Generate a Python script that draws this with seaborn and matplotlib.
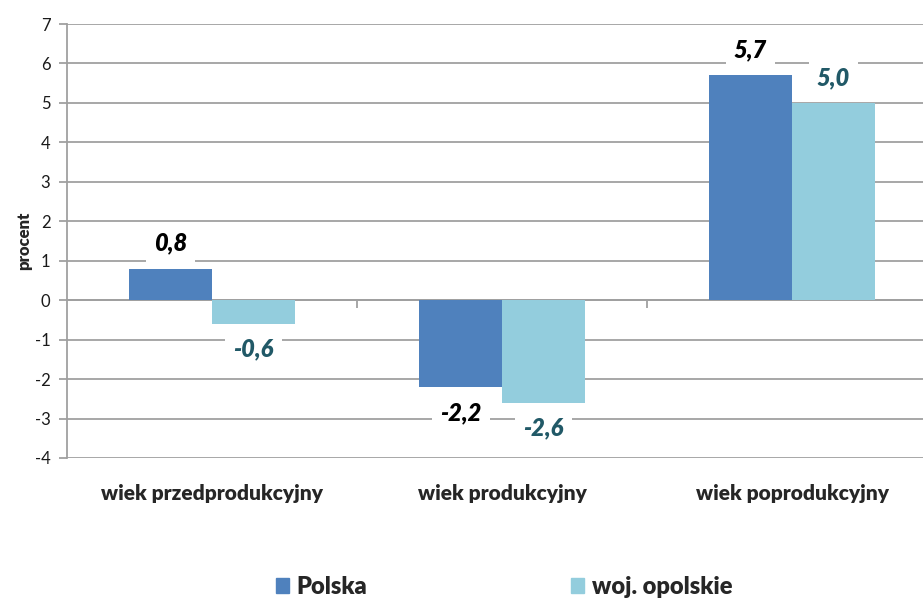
import matplotlib.pyplot as plt
import seaborn as sns
import pandas as pd

# dane
kategorie = ["wiek przedprodukcyjny", "wiek produkcyjny", "wiek poprodukcyjny"]
polska = [0.8, -2.2, 5.7]
opolskie = [-0.6, -2.6, 5.0]
serie = ["Polska", "woj. opolskie"]
etykiety_polska = ["0,8", "-2,2", "5,7"]
etykiety_opolskie = ["-0,6", "-2,6", "5,0"]

df = pd.DataFrame({
    "kategoria": kategorie * 2,
    "wartosc": polska + opolskie,
    "region": [serie[0]] * 3 + [serie[1]] * 3,
})

sns.set_theme(style="white")
plt.rcParams["font.family"] = ["Lato", "DejaVu Sans"]
plt.rcParams["axes.unicode_minus"] = False

szary = "#A0A0A0"
kolory = ["#4F81BD", "#93CDDD"]

fig = plt.figure(figsize=(9.23, 6.01), dpi=100)
# obszar wykresu wychodzi poza prawa krawedz, jak w oryginale
ax = fig.add_axes([0.0726, 0.238, 0.9426, 0.722])

sns.barplot(data=df, x="kategoria", y="wartosc", hue="region",
            palette=kolory, width=0.572, saturation=1, ax=ax,
            edgecolor="none", legend=False)

ax.set_xlim(-0.5, 2.5)
ax.set_ylim(-4, 7)
ax.set_yticks(range(-4, 8))
ax.yaxis.grid(True, color=szary, linewidth=1.3)
ax.set_axisbelow(True)

for s in ["top", "right", "bottom"]:
    ax.spines[s].set_visible(False)
ax.spines["left"].set_color(szary)
ax.spines["left"].set_linewidth(1.3)
ax.tick_params(axis="y", left=True, length=6, width=1.3, color=szary,
               labelsize=12, pad=6, labelcolor="#1a1a1a")
ax.tick_params(axis="x", bottom=False, labelsize=15, pad=13)
for t in ax.get_xticklabels():
    t.set_fontweight("heavy")

ax.set_xlabel("")
ax.set_ylabel("procent", fontsize=12, fontweight="heavy", labelpad=2)

# os kategorii na poziomie 0
sec = ax.secondary_xaxis(4 / 11)
sec.set_xticks([0.5, 1.5], labels=["", ""])
sec.tick_params(length=6, width=1.3, color=szary)
sec.spines["bottom"].set_color(szary)
sec.spines["bottom"].set_linewidth(1.3)

# etykiety danych
box = dict(facecolor="white", edgecolor="none", pad=6)
ax.bar_label(ax.containers[0], labels=etykiety_polska, padding=10,
             fontsize=17, fontweight="heavy", fontstyle="italic",
             color="black", bbox=box)
ax.bar_label(ax.containers[1], labels=etykiety_opolskie, padding=10,
             fontsize=17, fontweight="heavy", fontstyle="italic",
             color="#215967", bbox=box)

uchwyty = [plt.Rectangle((0, 0), 1, 1, color=c) for c in kolory]
fig.legend(uchwyty, serie, loc="center", bbox_to_anchor=(0.546, 0.024),
           ncol=2, frameon=False, handlelength=0.55, handleheight=0.6,
           handletextpad=0.35, columnspacing=8.6,
           prop={"weight": "heavy", "size": 17})

fig.savefig("out.png", dpi=100)
